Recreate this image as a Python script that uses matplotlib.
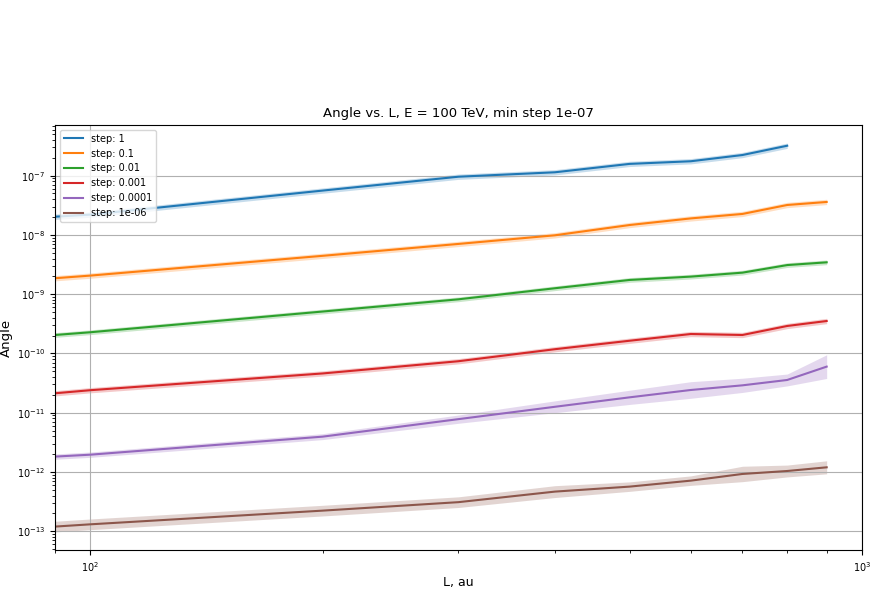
import numpy as np
import matplotlib
matplotlib.use('Agg')
import matplotlib.pyplot as plt
from matplotlib.ticker import NullFormatter

# distance, au
L = [90, 100, 200, 300, 400, 500, 600, 700, 800, 900]

steps = ['1', '0.1', '0.01', '0.001', '0.0001', '1e-06']

angle_1 = [2.03e-8, 2.2e-8, 5.6e-8, 9.6e-8, 1.14e-7, 1.58e-7, 1.75e-7, 2.23e-7, 3.2e-7, np.nan]
angle_01 = [1.86e-9, 2.06e-9, 4.44e-9, 7.05e-9, 9.86e-9, 1.47e-8, 1.9e-8, 2.26e-8, 3.2e-8, 3.6e-8]
angle_001 = [2.05e-10, 2.28e-10, 5.1e-10, 8.2e-10, 1.26e-9, 1.74e-9, 1.98e-9, 2.31e-9, 3.1e-9, 3.45e-9]
angle_0001 = [2.13e-11, 2.4e-11, 4.6e-11, 7.4e-11, 1.18e-10, 1.64e-10, 2.13e-10, 2.05e-10, 2.91e-10, 3.53e-10]
angle_00001 = [1.82e-12, 1.96e-12, 3.95e-12, 7.8e-12, 1.26e-11, 1.82e-11, 2.42e-11, 2.9e-11, 3.57e-11, 6.0e-11]
angle_1e6 = [1.2e-13, 1.31e-13, 2.23e-13, 3.1e-13, 4.67e-13, 5.67e-13, 7.15e-13, 9.27e-13, 1.04e-12, 1.2e-12]

# half width of the confidence band, in decades
band_1 = [0.045] * 10
band_01 = [0.045] * 10
band_001 = [0.04] * 10
band_0001 = [0.045] * 10
band_00001 = [0.045, 0.045, 0.05, 0.07, 0.1, 0.12, 0.14, 0.12, 0.1, 0.2]
band_1e6 = [0.09, 0.09, 0.09, 0.09, 0.1, 0.08, 0.08, 0.13, 0.1, 0.11]

series = [angle_1, angle_01, angle_001, angle_0001, angle_00001, angle_1e6]
bands = [band_1, band_01, band_001, band_0001, band_00001, band_1e6]

fig = plt.figure(figsize=(8.76, 5.89), dpi=100)
ax = fig.add_axes([0.0628, 0.0662, 0.9212, 0.7216])

x = np.array(L, dtype=float)
for i, (s, y, b) in enumerate(zip(steps, series, bands)):
    c = 'C%d' % i
    y = np.array(y)
    f = 10 ** np.array(b)
    ax.fill_between(x, y / f, y * f, color=c, alpha=0.25, lw=0)
    ax.plot(x, y, color=c, lw=1.5, label='step: ' + s)

ax.set_xscale('log')
ax.set_yscale('log')
ax.set_xlim(90, 1000)
ax.set_ylim(4.83e-14, 7.16e-7)
ax.xaxis.set_minor_formatter(NullFormatter())
ax.tick_params(labelsize=7)
ax.grid(True, which='major')
ax.set_xlabel('L, au', fontsize=9, labelpad=2)
ax.set_ylabel('Angle', fontsize=9.5)
ax.yaxis.set_label_coords(-0.052, 0.5)
ax.set_title('Angle vs. L, E = 100 TeV, min step 1e-07', fontsize=9.5)
ax.legend(loc='upper left', fontsize=7)

fig.savefig('out.png', dpi=100)
